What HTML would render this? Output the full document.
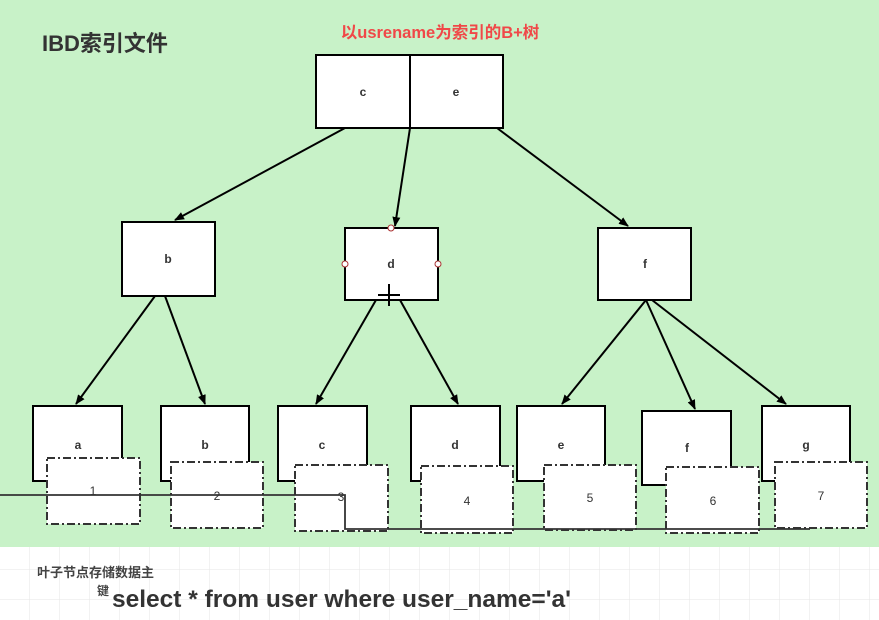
<!DOCTYPE html>
<html><head><meta charset="utf-8"><style>
html,body{margin:0;padding:0;width:879px;height:620px;overflow:hidden;background:#fff}
svg{display:block}
text{font-family:"Liberation Sans","Noto Sans CJK SC",sans-serif}
</style></head><body>
<svg width="879" height="620" viewBox="0 0 879 620" xmlns="http://www.w3.org/2000/svg">
<defs>
<pattern id="g" width="30" height="30" patternUnits="userSpaceOnUse"><path d="M30 0V30M0 30H30" stroke="#e6e6e6" stroke-width="1" fill="none"/></pattern>
<marker id="a" markerWidth="10" markerHeight="10" refX="9" refY="5" orient="auto" markerUnits="userSpaceOnUse"><path d="M0,1 L10,5 L0,9 Z" fill="#000"/></marker>
</defs>
<rect width="879" height="620" fill="url(#g)"/>
<rect width="879" height="547" fill="#c8f2c8"/>
<text x="42" y="51" font-size="22" font-weight="bold" fill="#333">IBD索引文件</text>
<text x="440" y="38" font-size="16.5" font-weight="bold" fill="#f04848" text-anchor="middle">以usrename为索引的B+树</text>
<g stroke="#000" stroke-width="2" fill="#fff">
<rect x="316" y="55" width="94" height="73"/><rect x="410" y="55" width="93" height="73"/>
<rect x="122" y="222" width="93" height="74"/><rect x="345" y="228" width="93" height="72"/><rect x="598" y="228" width="93" height="72"/>
<rect x="33" y="406" width="89" height="75"/><rect x="161" y="406" width="88" height="75"/><rect x="278" y="406" width="89" height="75"/>
<rect x="411" y="406" width="89" height="75"/><rect x="517" y="406" width="88" height="75"/><rect x="642" y="411" width="89" height="74"/><rect x="762" y="406" width="88" height="75"/>
</g>
<g stroke="#000" stroke-width="2" fill="none" marker-end="url(#a)">
<line x1="345" y1="128" x2="175" y2="220"/><line x1="410" y1="128" x2="395" y2="226"/><line x1="497" y1="128" x2="628" y2="226"/>
<line x1="155" y1="296" x2="76" y2="404"/><line x1="165" y1="296" x2="205" y2="404"/>
<line x1="376" y1="300" x2="316" y2="404"/><line x1="400" y1="300" x2="458" y2="404"/>
<line x1="646" y1="300" x2="562" y2="404"/><line x1="646" y1="300" x2="695" y2="409"/><line x1="652" y1="300" x2="786" y2="404"/>
</g>
<g stroke="#333" stroke-width="2" fill="#fff" stroke-dasharray="8,3,2,3">
<rect x="47" y="458" width="93" height="66"/><rect x="171" y="462" width="92" height="66"/><rect x="295" y="465" width="93" height="66"/>
<rect x="421" y="466" width="92" height="67"/><rect x="544" y="465" width="92" height="65"/><rect x="666" y="467" width="93" height="66"/><rect x="775" y="462" width="92" height="66"/>
</g>
<path d="M0 495H345V529H810" stroke="#333" stroke-width="1.8" fill="none"/>
<g font-size="12" font-weight="bold" fill="#333" text-anchor="middle">
<text x="363" y="96">c</text><text x="456" y="96">e</text>
<text x="168" y="263">b</text><text x="391" y="268">d</text><text x="645" y="268">f</text>
<text x="78" y="449">a</text><text x="205" y="449">b</text><text x="322" y="449">c</text><text x="455" y="449">d</text><text x="561" y="449">e</text><text x="687" y="452">f</text><text x="806" y="449">g</text>
<text x="93" y="495" font-weight="normal">1</text><text x="217" y="500" font-weight="normal">2</text><text x="341" y="501" font-weight="normal">3</text>
<text x="467" y="505" font-weight="normal">4</text><text x="590" y="502" font-weight="normal">5</text><text x="713" y="505" font-weight="normal">6</text><text x="821" y="500" font-weight="normal">7</text>
</g>
<g stroke="#a33" fill="#fff" stroke-width="1"><circle cx="391" cy="228" r="3"/><circle cx="345" cy="264" r="3"/><circle cx="438" cy="264" r="3"/></g>
<path d="M389 284V306M378 295H400" stroke="#000" stroke-width="2"/>
<text x="37" y="577" font-size="13" font-weight="bold" fill="#444">叶子节点存储数据主</text>
<text x="97" y="595" font-size="12" font-weight="bold" fill="#444">键</text>
<text x="112" y="607" font-size="24.5" font-weight="bold" fill="#333">select * from user where user_name='a'</text>
</svg>
</body></html>
